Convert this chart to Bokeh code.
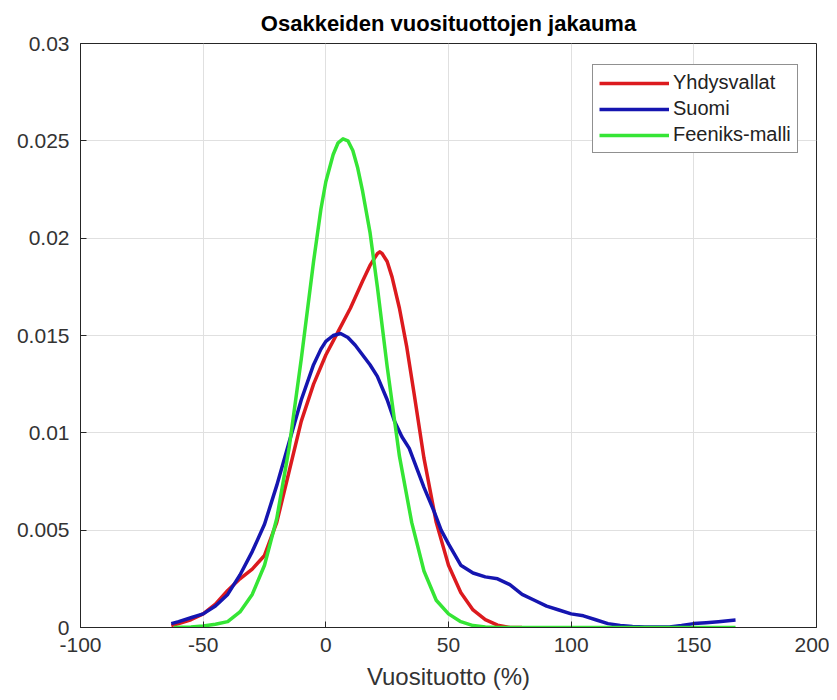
from bokeh.plotting import figure
from bokeh.models import FixedTicker, Legend, LegendItem, ColumnDataSource
from bokeh.embed import file_html
from bokeh.resources import INLINE

# ---- data ----
title_text = "Osakkeiden vuosituottojen jakauma"
x_label = "Vuosituotto (%)"
series_names = ["Yhdysvallat", "Suomi", "Feeniks-malli"]

us_x = [-63, -60, -55, -50, -45, -40, -35, -30, -25, -20, -15, -10, -5, 0, 5, 10, 15,
        18, 20, 21, 22, 23, 25, 27, 30, 33, 36, 40, 45, 50, 55, 60, 65, 70, 75, 80]
us_y = [0.0001, 0.0002, 0.0004, 0.0007, 0.0012, 0.0019, 0.0025, 0.0030, 0.0037, 0.0054,
        0.0080, 0.0106, 0.0125, 0.0140, 0.0152, 0.0164, 0.0178, 0.0186, 0.0190, 0.0192,
        0.0193, 0.0192, 0.0188, 0.0180, 0.0164, 0.0144, 0.0120, 0.0087, 0.0054, 0.0032,
        0.0018, 0.0009, 0.0004, 0.00012, 0.0, 0.0]

fi_x = [-63, -60, -55, -50, -45, -40, -35, -30, -25, -20, -15, -10, -5, -2, 0, 3, 6, 9,
        12, 15, 18, 21, 25, 28, 31, 34, 37, 40, 44, 47, 50, 55, 60, 65, 70, 75, 80, 85,
        90, 95, 100, 105, 110, 115, 120, 125, 130, 135, 140, 145, 150, 155, 160, 165, 167]
fi_y = [0.0002, 0.0003, 0.0005, 0.0007, 0.0011, 0.0017, 0.0027, 0.0039, 0.0053, 0.0073,
        0.0095, 0.0117, 0.0135, 0.0143, 0.0147, 0.0150, 0.0151, 0.0149, 0.0145, 0.0140,
        0.0135, 0.0129, 0.0117, 0.0106, 0.0098, 0.0092, 0.0082, 0.0072, 0.0060, 0.0050,
        0.0043, 0.0032, 0.0028, 0.0026, 0.0025, 0.0022, 0.0017, 0.0014, 0.0011, 0.0009,
        0.0007, 0.0006, 0.0004, 0.0002, 0.0001, 0.00005, 0.00003, 0.00002, 0.00003,
        0.0001, 0.0002, 0.00025, 0.0003, 0.00036, 0.00038]

fe_x = [-62, -55, -50, -45, -40, -35, -30, -25, -20, -15, -10, -5, -2, 0, 3, 5, 7, 9, 11,
        13, 15, 18, 21, 25, 30, 35, 40, 45, 50, 55, 60, 65, 70, 167]
fe_y = [0.0, 0.00003, 0.00008, 0.00017, 0.0003, 0.0008, 0.0017, 0.0032, 0.0056, 0.0092,
        0.0138, 0.0188, 0.0215, 0.0229, 0.0243, 0.0249, 0.0251, 0.0250, 0.0245, 0.0236,
        0.0224, 0.0203, 0.0175, 0.0134, 0.0088, 0.0054, 0.0029, 0.0014, 0.0007, 0.0003,
        0.0001, 0.00002, 0.0, 0.0]

x_ticks = [-100, -50, 0, 50, 100, 150, 200]
x_tick_labels = ["-100", "-50", "0", "50", "100", "150", "200"]
y_ticks = [0, 0.005, 0.01, 0.015, 0.02, 0.025, 0.03]
y_tick_labels = ["0", "0.005", "0.01", "0.015", "0.02", "0.025", "0.03"]

colors = ["#dc1a1e", "#1515b0", "#35e535"]

FONT = "Liberation Sans"
DARK = "#262626"

p = figure(width=829, height=692, x_range=(-100, 200), y_range=(0, 0.03),
           output_backend="svg", toolbar_location=None,
           min_border_left=80, min_border_right=13, min_border_top=43, min_border_bottom=65)

p.title.text = title_text
p.title.text_font = FONT
p.title.text_font_size = "22px"
p.title.text_font_style = "bold"
p.title.text_color = "#000000"
p.title.align = "center"
p.title.standoff = 16

p.outline_line_color = DARK
p.outline_line_width = 1
p.outline_line_alpha = 1.0
p.background_fill_color = "white"
p.border_fill_color = "white"

for ax in (p.xaxis[0], p.yaxis[0]):
    ax.axis_line_color = DARK
    ax.major_tick_line_color = DARK
    ax.major_tick_in = 6
    ax.major_tick_out = 0
    ax.minor_tick_line_color = None
    ax.major_label_text_font = FONT
    ax.major_label_text_font_size = "21px"
    ax.major_label_text_color = "#333333"

p.yaxis.major_label_standoff = 11
p.xaxis.major_label_standoff = 10

p.xaxis.ticker = FixedTicker(ticks=x_ticks)
p.xaxis.major_label_overrides = {t: l for t, l in zip(x_ticks, x_tick_labels)}
p.yaxis.ticker = FixedTicker(ticks=y_ticks)
p.yaxis.major_label_overrides = {t: l for t, l in zip(y_ticks, y_tick_labels)}

p.xaxis.axis_label = x_label
p.xaxis.axis_label_text_font = FONT
p.xaxis.axis_label_text_font_size = "24px"
p.xaxis.axis_label_text_font_style = "normal"
p.xaxis.axis_label_text_color = "#333333"
p.xaxis.axis_label_standoff = 8

p.xgrid.grid_line_color = "#e0e0e0"
p.ygrid.grid_line_color = "#e0e0e0"

renderers = []
for xs, ys, c in zip([us_x, fi_x, fe_x], [us_y, fi_y, fe_y], colors):
    src = ColumnDataSource(dict(x=xs, y=ys))
    r = p.line("x", "y", source=src, line_color=c, line_width=3.5, line_join="round")
    renderers.append(r)

legend = Legend(items=[LegendItem(label=n, renderers=[r]) for n, r in zip(series_names, renderers)],
                location=(512, 474), margin=0, padding=6, spacing=3,
                label_height=22, glyph_height=22, glyph_width=70, label_standoff=4,
                label_text_font=FONT, label_text_font_size="20px", label_text_color="#222222",
                border_line_color="#222222", border_line_width=1,
                background_fill_color="white", background_fill_alpha=1.0)
p.add_layout(legend, "center")

open("out.html", "w").write(file_html(p, INLINE))
